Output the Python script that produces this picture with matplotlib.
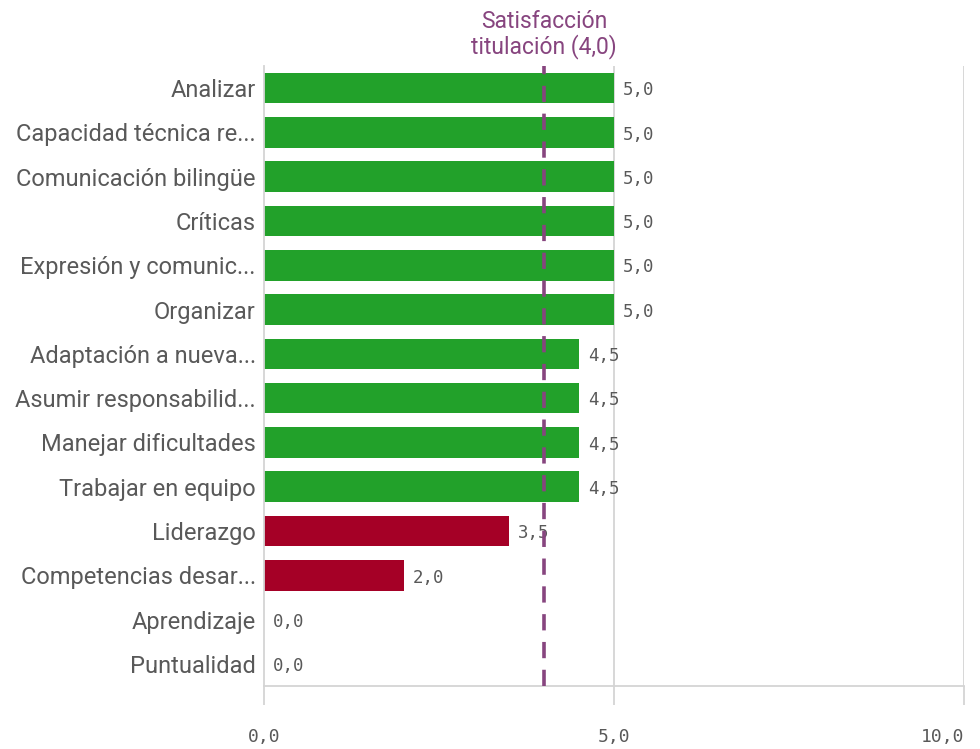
import matplotlib.pyplot as plt
from matplotlib.transforms import blended_transform_factory

# data
categories = ["Analizar", "Capacidad técnica re...", "Comunicación bilingüe", "Críticas",
              "Expresión y comunic...", "Organizar", "Adaptación a nueva...",
              "Asumir responsabilid...", "Manejar dificultades", "Trabajar en equipo",
              "Liderazgo", "Competencias desar...", "Aprendizaje", "Puntualidad"]
values = [5.0, 5.0, 5.0, 5.0, 5.0, 5.0, 4.5, 4.5, 4.5, 4.5, 3.5, 2.0, 0.0, 0.0]
reference = 4.0
ref_label = "Satisfacción\ntitulación (4,0)"
x_ticks = [0, 5, 10]

GREEN = "#22a12a"
RED = "#a50026"
PURPLE = "#87457f"
GRID = "#d4d4d4"
TEXT = "#595959"
SANS = "Roboto"

fig = plt.figure(figsize=(9.8, 7.49), dpi=100)
ax = fig.add_axes([0.2694, 0.0841, 0.7143, 0.8278])

y = list(range(len(categories)))
colors = [GREEN if v >= reference else RED for v in values]
ax.barh(y, values, height=0.69, color=colors, zorder=2)

ax.set_ylim(len(categories) - 0.5, -0.5)
ax.set_xlim(0, 10)

for yi, v in zip(y, values):
    ax.text(v + 0.13, yi + 0.05, f"{v:.1f}".replace(".", ","), va="center", ha="left",
            fontsize=12.5, family="DejaVu Sans Mono", color=TEXT, zorder=3)

# reference line
ax.axvline(reference, color=PURPLE, lw=2.6, ls=(0, (4.5, 3.2)), zorder=4)
ax.text(reference, 1.012, ref_label, transform=blended_transform_factory(ax.transData, ax.transAxes),
        ha="center", va="bottom", fontsize=16.5, color=PURPLE, family=SANS,
        linespacing=1.05)

# grid at 5 and 10
for xv in x_ticks[1:]:
    ax.axvline(xv, color=GRID, lw=1.3, zorder=1)

for side in ["top", "right"]:
    ax.spines[side].set_visible(False)
ax.spines["left"].set_color(GRID)
ax.spines["left"].set_linewidth(1.3)
ax.spines["bottom"].set_color(GRID)
ax.spines["bottom"].set_linewidth(1.3)

ax.set_yticks(y)
ax.set_yticklabels(categories, fontsize=17, color=TEXT, family=SANS)
ax.tick_params(axis="y", length=0, pad=6)

ax.set_xticks(x_ticks)
ax.set_xticklabels([f"{t:.1f}".replace(".", ",") for t in x_ticks], fontsize=13,
                   family="DejaVu Sans Mono", color=TEXT)
ax.tick_params(axis="x", length=14, width=1.3, color=GRID, pad=16)
labels = ax.get_xticklabels()
labels[-1].set_ha("right")
labels[-1].set_x(10)

fig.savefig("out.png", dpi=100)
